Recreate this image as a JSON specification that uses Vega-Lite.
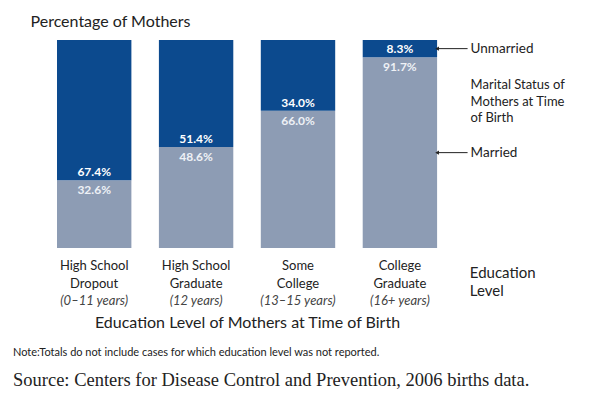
{
  "$schema": "https://vega.github.io/schema/vega-lite/v6.json",
  "width": 482,
  "height": 208,
  "autosize": "none",
  "padding": {"left": 57, "top": 40, "right": 61, "bottom": 152},
  "background": "white",
  "config": {"view": {"stroke": null}, "font": "Lato"},
  "data": {"values": [
    {"cat": "High School\nDropout", "years": "(0–11 years)", "married": 0.326, "unmarried": 0.674},
    {"cat": "High School\nGraduate", "years": "(12 years)", "married": 0.486, "unmarried": 0.514},
    {"cat": "Some\nCollege", "years": "(13–15 years)", "married": 0.660, "unmarried": 0.340},
    {"cat": "College\nGraduate", "years": "(16+ years)", "married": 0.917, "unmarried": 0.083}
  ]},
  "title": {
    "text": "Note:Totals do not include cases for which education level was not reported.",
    "subtitle": "Source: Centers for Disease Control and Prevention, 2006 births data.",
    "orient": "bottom", "anchor": "start", "frame": "group", "dx": -44, "offset": 17,
    "font": "Lato", "fontSize": 11, "fontWeight": "normal", "color": "#222",
    "subtitleFont": "Liberation Serif", "subtitleFontSize": 18.5, "subtitleColor": "#222", "subtitlePadding": 13
  },
  "encoding": {
    "x": {
      "field": "cat", "type": "nominal", "sort": null,
      "scale": {"domain": ["High School\nDropout", "High School\nGraduate", "Some\nCollege", "College\nGraduate", "Education\nLevel"], "paddingInner": 0.27, "paddingOuter": 0},
      "axis": {
        "title": "Education Level of Mothers at Time of Birth",
        "titleFont": "Lato", "titleFontSize": 16, "titleFontWeight": "normal", "titleColor": "#222",
        "titleX": 190, "titleY": 74, "titleAlign": "center", "titleBaseline": "middle",
        "labelAngle": 0, "labelExpr": "split(datum.label, '\\n')",
        "labelFont": "Lato", "labelColor": "#222", "labelBaseline": "top", "labelLineHeight": 18,
        "labelFontSize": {"condition": {"test": "indexof(datum.value, 'Education') == 0", "value": 15}, "value": 13},
        "labelAlign": {"condition": {"test": "indexof(datum.value, 'Education') == 0", "value": "left"}, "value": "center"},
        "labelOffset": {"condition": {"test": "indexof(datum.value, 'Education') == 0", "value": -32}, "value": 0},
        "labelPadding": {"condition": {"test": "indexof(datum.value, 'Education') == 0", "value": 17}, "value": 11},
        "ticks": false, "domain": false, "grid": false
      }
    }
  },
  "layer": [
    {
      "transform": [{"fold": ["married", "unmarried"], "as": ["status", "value"]}],
      "mark": {"type": "bar"},
      "encoding": {
        "y": {
          "field": "value", "type": "quantitative", "stack": "zero",
          "scale": {"domain": [0, 1], "nice": false},
          "axis": {
            "title": "Percentage of Mothers", "titleAngle": 0, "titleAlign": "left", "titleBaseline": "alphabetic",
            "titleX": -27, "titleY": -14, "titleFont": "Lato", "titleFontSize": 16, "titleFontWeight": "normal", "titleColor": "#222",
            "labels": false, "ticks": false, "domain": false, "grid": false
          }
        },
        "color": {"field": "status", "type": "nominal", "scale": {"domain": ["married", "unmarried"], "range": ["#8d9cb4", "#0c4a8e"]}, "legend": null},
        "order": {"field": "status", "sort": "ascending"}
      }
    },
    {
      "mark": {"type": "text", "dy": -8, "fontWeight": "bold", "fontSize": 12, "color": "white", "font": "Lato"},
      "encoding": {
        "y": {"field": "married", "type": "quantitative"},
        "text": {"field": "unmarried", "type": "quantitative", "format": ".1%"}
      }
    },
    {
      "mark": {"type": "text", "dy": 10, "fontWeight": "bold", "fontSize": 12, "color": "#eef1f6", "font": "Lato"},
      "encoding": {
        "y": {"field": "married", "type": "quantitative"},
        "text": {"field": "married", "type": "quantitative", "format": ".1%"}
      }
    },
    {
      "mark": {"type": "text", "dy": 53, "fontStyle": "italic", "fontSize": 13, "color": "#444", "font": "Lato"},
      "encoding": {
        "y": {"datum": 0},
        "text": {"field": "years"}
      }
    },
    {
      "transform": [
        {"filter": "indexof(datum.cat, 'College') == 0"},
        {"calculate": "datum.married / 2", "as": "mMid"},
        {"calculate": "datum.married + datum.unmarried / 2", "as": "uMid"}
      ],
      "layer": [
        {
          "mark": {"type": "rule", "color": "#222", "strokeWidth": 1},
          "encoding": {
            "x": {"field": "cat", "bandPosition": 1},
            "x2": {"datum": "Education\nLevel", "bandPosition": 0.04},
            "y": {"field": "mMid", "type": "quantitative"}
          }
        },
        {
          "mark": {"type": "rule", "color": "#222", "strokeWidth": 1},
          "encoding": {
            "x": {"field": "cat", "bandPosition": 1},
            "x2": {"datum": "Education\nLevel", "bandPosition": 0.04},
            "y": {"field": "uMid", "type": "quantitative"}
          }
        },
        {
          "mark": {"type": "point", "shape": "triangle-left", "filled": true, "color": "#222", "size": 18, "opacity": 1},
          "encoding": {
            "x": {"field": "cat", "bandPosition": 1},
            "y": {"field": "mMid", "type": "quantitative"}
          }
        },
        {
          "mark": {"type": "point", "shape": "triangle-left", "filled": true, "color": "#222", "size": 18, "opacity": 1},
          "encoding": {
            "x": {"field": "cat", "bandPosition": 1},
            "y": {"field": "uMid", "type": "quantitative"}
          }
        },
        {
          "mark": {"type": "text", "text": "Married", "align": "left", "dx": 6, "fontSize": 13.5, "color": "#222", "font": "Lato"},
          "encoding": {
            "x": {"datum": "Education\nLevel", "bandPosition": 0},
            "y": {"field": "mMid", "type": "quantitative"}
          }
        },
        {
          "mark": {"type": "text", "text": "Unmarried", "align": "left", "dx": 6, "fontSize": 13.5, "color": "#222", "font": "Lato"},
          "encoding": {
            "x": {"datum": "Education\nLevel", "bandPosition": 0},
            "y": {"field": "uMid", "type": "quantitative"}
          }
        },
        {
          "mark": {"type": "text", "text": ["Marital Status of", "Mothers at Time", "of Birth"], "align": "left", "baseline": "top", "dx": 6, "lineHeight": 16.5, "fontSize": 13, "color": "#222", "font": "Lato"},
          "encoding": {
            "x": {"datum": "Education\nLevel", "bandPosition": 0},
            "y": {"datum": 0.8125}
          }
        }
      ]
    }
  ]
}
